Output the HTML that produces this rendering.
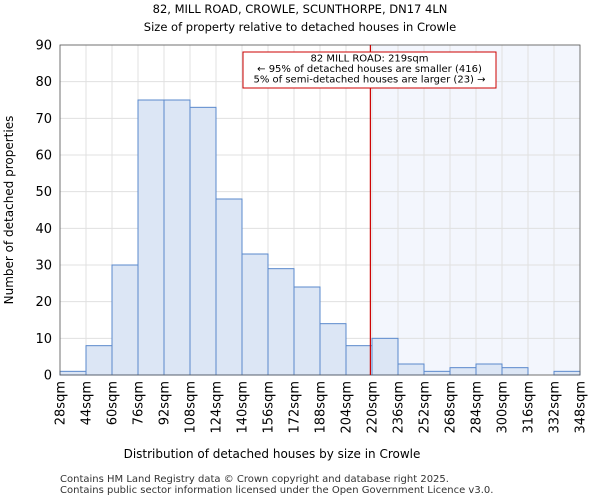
<!DOCTYPE html>
<html><head><meta charset="utf-8"><style>
body{margin:0;background:#fff;font-family:"DejaVu Sans","Liberation Sans",sans-serif}
</style></head><body>
<svg id="c" width="600" height="500" xmlns="http://www.w3.org/2000/svg" font-family="DejaVu Sans, Liberation Sans, sans-serif">
<text x="300" y="13" text-anchor="middle" font-size="11.5">82, MILL ROAD, CROWLE, SCUNTHORPE, DN17 4LN</text>
<text x="300" y="31" text-anchor="middle" font-size="11.5">Size of property relative to detached houses in Crowle</text>
<g id="plot"></g>
<text x="272" y="458" text-anchor="middle" font-size="12">Distribution of detached houses by size in Crowle</text>
<text transform="translate(13,210) rotate(-90)" text-anchor="middle" font-size="12">Number of detached properties</text>
<text x="60" y="482" font-size="10" fill="#333">Contains HM Land Registry data © Crown copyright and database right 2025.</text>
<text x="60" y="493" font-size="10" fill="#333">Contains public sector information licensed under the Open Government Licence v3.0.</text>
</svg>
<script>
const binStarts=[28,44,60,76,92,108,124,140,156,172,188,204,220,236,252,268,284,300,316,332];
const counts=[1,8,30,75,75,73,48,33,29,24,14,8,10,3,1,2,3,2,0,1];
const xTicks=[28,44,60,76,92,108,124,140,156,172,188,204,220,236,252,268,284,300,316,332,348];
const yTicks=[0,10,20,30,40,50,60,70,80,90];
const subjectSize=219;
const NS="http://www.w3.org/2000/svg";
const L=60,R=580,T=45,B=375;
const xs=v=>L+(v-28)/(348-28)*(R-L);
const ys=v=>B-v/90*(B-T);
const g=document.getElementById('plot');
function mk(t,a){const e=document.createElementNS(NS,t);for(const k in a)e.setAttribute(k,a[k]);g.appendChild(e);return e;}
const sh=mk('rect',{x:xs(subjectSize),y:T,width:R-xs(subjectSize),height:B-T,fill:'#f3f6fd'});


yTicks.forEach(v=>{
 const l=mk('line',{x1:L,x2:R,y1:ys(v),y2:ys(v),stroke:'#e0e0e0'});
 
 
 const t=mk('text',{x:L-8,y:ys(v)+4.5,'text-anchor':'end','font-size':13});
 t.textContent=v;
 
 
});
xTicks.forEach(v=>{
 const l=mk('line',{x1:xs(v),x2:xs(v),y1:T,y2:B,stroke:'#e0e0e0'});
 
 
 const t=mk('text',{transform:`translate(${xs(v)+4.5},${B+6}) rotate(-90)`,'text-anchor':'end','font-size':13});
 t.textContent=v+'sqm';
 
 
});
counts.forEach((c,i)=>{
 const x0=xs(binStarts[i]),x1=xs(binStarts[i]+16);
 const r=mk('rect',{x:x0,y:ys(c),width:x1-x0,height:B-ys(c),fill:'#dce6f5',stroke:'#5a88cc','stroke-width':1});
 
 
});
const fr=mk('rect',{x:L,y:T,width:R-L,height:B-T,fill:'none',stroke:'#555','stroke-width':0.8});


const rl=mk('line',{x1:xs(subjectSize),x2:xs(subjectSize),y1:T,y2:B,stroke:'#cc0000','stroke-width':1.2});


const bx=mk('rect',{x:243,y:52,width:253,height:36,fill:'#fff',stroke:'#cc0000'});


['82 MILL ROAD: 219sqm','← 95% of detached houses are smaller (416)','5% of semi-detached houses are larger (23) →'].forEach((s,i)=>{
 const t=mk('text',{x:369.5,y:61.5+i*10.5,'text-anchor':'middle','font-size':10});
 t.textContent=s;
 
 
});
</script>
</body></html>
